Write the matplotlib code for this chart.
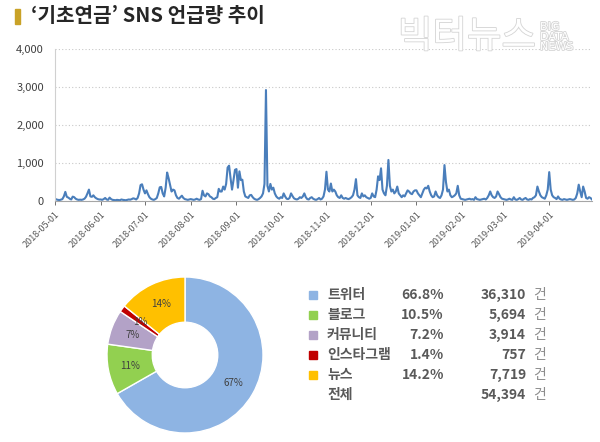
import numpy as np
import pandas as pd
import matplotlib
matplotlib.use("Agg")
import matplotlib.pyplot as plt
import matplotlib.dates as mdates
import matplotlib.patheffects as pe
from matplotlib.ticker import FuncFormatter

plt.rcParams['font.family'] = ['Noto Sans CJK KR', 'DejaVu Sans']

# daily mentions
may = [60, 40, 30, 25, 35, 50, 120, 240, 110, 90, 60, 40, 115, 100, 60, 40, 30, 35, 30, 40,
       60, 110, 200, 300, 120, 110, 150, 100, 70, 50, 40]
jun = [40, 30, 50, 80, 40, 30, 90, 50, 30, 25, 20, 30, 25, 20, 40, 30, 25, 20, 30, 40,
       35, 50, 70, 60, 40, 80, 200, 420, 440, 300]
jul = [200, 280, 180, 100, 60, 40, 30, 50, 80, 200, 360, 370, 200, 120, 350, 750, 600, 420, 250, 300,
       280, 150, 80, 60, 100, 140, 80, 50, 40, 30, 40]
aug = [50, 40, 30, 40, 60, 40, 30, 50, 270, 150, 120, 200, 180, 120, 100, 60, 50, 80, 100, 320,
       250, 250, 380, 300, 450, 880, 930, 600, 300, 550, 820]
sep = [840, 350, 780, 550, 560, 250, 120, 100, 80, 150, 160, 100, 60, 40, 30, 50, 80, 120, 200, 450,
       2920, 400, 250, 450, 300, 350, 200, 120, 80, 60]
oct_ = [100, 80, 200, 120, 60, 50, 80, 200, 130, 70, 50, 40, 60, 100, 80, 120, 200, 100, 50, 40,
        80, 100, 60, 40, 30, 50, 80, 40, 60, 120, 300]
nov = [770, 300, 250, 460, 250, 300, 250, 150, 100, 80, 150, 80, 60, 80, 60, 50, 70, 100, 150, 300,
       575, 150, 100, 80, 200, 120, 150, 100, 80, 60]
dec = [80, 200, 120, 100, 300, 650, 550, 860, 300, 200, 150, 400, 1080, 400, 250, 300, 200, 250, 380, 200,
       150, 100, 150, 120, 200, 280, 250, 200, 180, 250, 280]
jan = [280, 200, 150, 100, 200, 300, 350, 330, 400, 250, 150, 100, 120, 250, 150, 100, 80, 150, 300, 945,
       500, 250, 300, 150, 100, 120, 150, 200, 400, 150, 60]
feb = [50, 40, 30, 40, 50, 60, 40, 50, 30, 100, 50, 40, 30, 40, 50, 60, 40, 80, 150, 250,
       150, 100, 80, 120, 250, 180, 100, 60]
mar = [50, 40, 30, 40, 60, 40, 30, 100, 40, 30, 50, 80, 40, 30, 60, 80, 40, 30, 50, 40,
       80, 100, 150, 380, 250, 150, 100, 80, 60, 150, 300]
apr = [760, 300, 150, 100, 80, 50, 120, 60, 40, 30, 50, 40, 30, 40, 50, 40, 30, 40, 80, 200,
       430, 250, 100, 380, 250, 80, 60, 100, 80, 40]

daily = may + jun + jul + aug + sep + oct_ + nov + dec + jan + feb + mar + apr
dates = pd.date_range('2018-05-01', '2019-04-30', freq='D')

channels = ['트위터', '블로그', '커뮤니티', '인스타그램', '뉴스']
counts = [36310, 5694, 3914, 757, 7719]
shares = ['66.8%', '10.5%', '7.2%', '1.4%', '14.2%']
pie_labels = ['67%', '11%', '7%', '1%', '14%']
total = 54394
colors = ['#8EB4E3', '#92D050', '#B3A2C7', '#C00000', '#FFC000']

W, H = 600, 442
fig = plt.figure(figsize=(6, 4.42), dpi=100)

def fx(px):
    return px / W

def fy(py):
    return 1 - py / H

# title
fig.patches.append(plt.Rectangle((fx(15), fy(24)), 5 / W, 15 / H, transform=fig.transFigure,
                                 color='#C9A227'))
fig.text(fx(31), fy(16), '\u2018기초연금\u2019 SNS 언급량 추이', fontsize=14.5, fontweight='bold',
         color='#262626', va='center')

# watermark
wm = [pe.withStroke(linewidth=1.2, foreground='#d4d4d4')]
fig.text(fx(398), fy(37), '빅터뉴스', fontsize=27, color='white', va='center',
         path_effects=wm, zorder=0)
fig.text(fx(540), fy(37), 'BIG\nDATA\nNEWS', fontsize=8, color='white', va='center',
         linespacing=1.0, path_effects=wm, zorder=0, family='DejaVu Sans')

# line chart
ax = fig.add_axes([fx(55), fy(201), 537 / W, 152 / H])
ax.set_facecolor('none')
ax.plot(dates, daily, color='#4A7EBB', linewidth=1.5)
ax.set_ylim(0, 4000)
ax.set_xlim(dates[0], dates[-1])
ax.set_yticks([0, 1000, 2000, 3000, 4000])
ax.yaxis.set_major_formatter(FuncFormatter(lambda v, p: f'{int(v):,}'))
ax.grid(axis='y', linestyle=(0, (1, 2)), color='#c8c8c8', linewidth=0.8)
ax.xaxis.set_major_locator(mdates.MonthLocator())
ax.xaxis.set_major_formatter(mdates.DateFormatter('%Y-%m-%d'))
for lab in ax.get_xticklabels():
    lab.set_rotation(45)
    lab.set_ha('right')
    lab.set_rotation_mode('anchor')
ax.tick_params(axis='x', labelsize=6.5, colors='#595959', length=3, width=0.6)
ax.tick_params(axis='y', labelsize=8, colors='#404040', length=0, pad=8)
for s in ['top', 'right']:
    ax.spines[s].set_visible(False)
ax.spines['left'].set_color('#d0d0d0')
ax.spines['bottom'].set_color('#a6a6a6')

# donut
r = 80
ax2 = fig.add_axes([fx(185 - r), fy(355 + r), 2 * r / W, 2 * r / H])
wedges, texts, autotexts = ax2.pie(counts, colors=colors, startangle=90, counterclock=False,
                                   radius=78 / r, autopct='%1.0f%%', pctdistance=0.72,
                                   wedgeprops=dict(width=0.58 * 78 / r, edgecolor='white', linewidth=1),
                                   textprops=dict(fontsize=7, color='#404040'))
for t, s in zip(autotexts, pie_labels):
    t.set_text(s)
ax2.set_xlim(-1, 1)
ax2.set_ylim(-1, 1)

# legend table
fs = 10
rows_y = [295, 315, 335, 355, 375, 395]
for i, name in enumerate(channels):
    y = fy(rows_y[i])
    fig.patches.append(plt.Rectangle((fx(309), y - 4 / H), 8 / W, 8 / H, transform=fig.transFigure,
                                     color=colors[i]))
    fig.text(fx(327), y, name, fontsize=fs, color='#595959', va='center', fontweight='bold')
    fig.text(fx(444), y, shares[i], fontsize=fs, color='#595959', va='center', ha='right',
             fontweight='bold')
    fig.text(fx(526), y, f'{counts[i]:,}', fontsize=fs, color='#595959', va='center', ha='right',
             fontweight='bold')
    fig.text(fx(533), y, '건', fontsize=fs, color='#8c8c8c', va='center')
y = fy(rows_y[5])
fig.text(fx(327), y, '전체', fontsize=fs, color='#595959', va='center', fontweight='bold')
fig.text(fx(526), y, f'{total:,}', fontsize=fs, color='#595959', va='center', ha='right',
         fontweight='bold')
fig.text(fx(533), y, '건', fontsize=fs, color='#8c8c8c', va='center')

fig.savefig('out.png', dpi=100)
